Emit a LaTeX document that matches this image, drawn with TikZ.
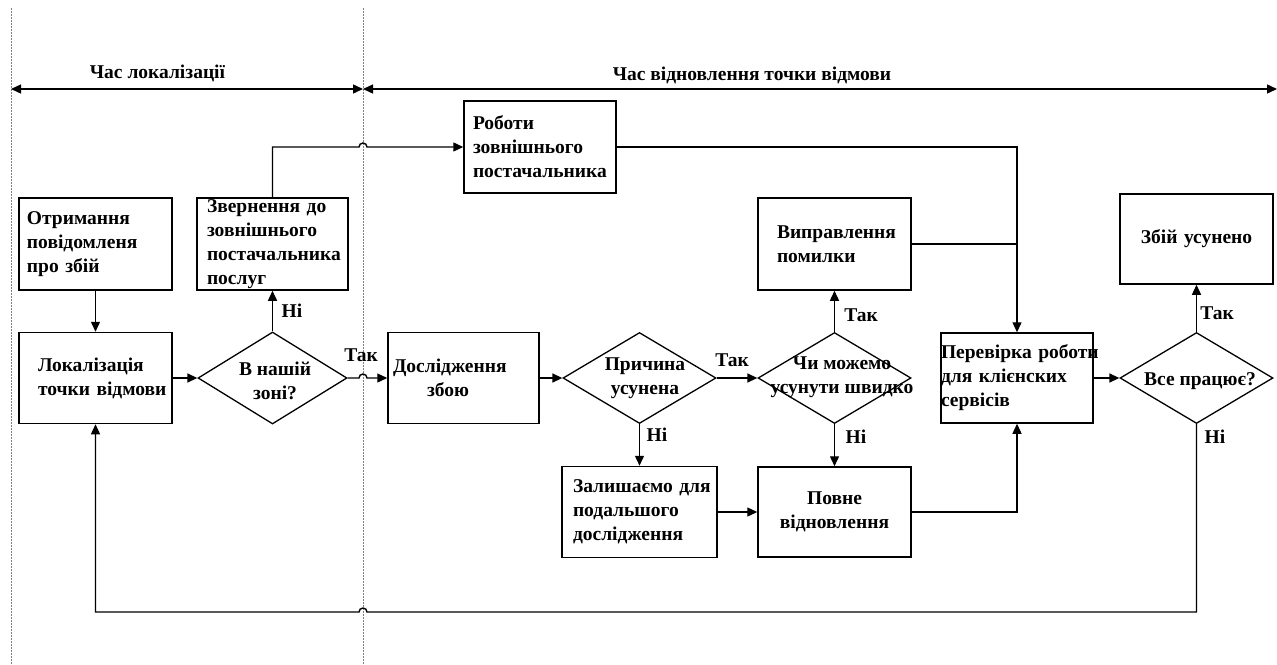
\documentclass[tikz,border=0pt]{standalone}
\usepackage{fontspec}
\setmainfont{Liberation Serif}
\usetikzlibrary{shapes.geometric,arrows.meta,calc}
\newcommand{\fnt}{\fontsize{19.5}{24}\selectfont\bfseries}
\tikzset{
  box/.style={draw, line width=1.5pt, rectangle, minimum height=91pt, inner ysep=0pt, font=\fnt, align=left},
  dec/.style={draw, line width=1.3pt, diamond, minimum width=153pt, minimum height=91pt, inner sep=0pt},
  dtext/.style={font=\fnt, align=center, inner sep=0pt},
  flow/.style={line width=1.4pt, -{Triangle[length=10pt,width=9pt]}},
  link/.style={line width=1.4pt},
  lbl/.style={font=\fnt, inner sep=0pt},
  guide/.style={gray, line width=0.8pt, dash pattern=on 1.5pt off 1.5pt},
  span/.style={line width=1.4pt, {Triangle[length=10pt,width=9pt]}-{Triangle[length=10pt,width=9pt]}}
}
\begin{document}
\begin{tikzpicture}[x=1pt, y=-1pt]
\useasboundingbox (0,0) rectangle (1277,664);

% phase boundaries
\coordinate (ga0) at (11,8);   \coordinate (ga1) at (11,664);
\coordinate (gb0) at (363,8);  \coordinate (gb1) at (363,664);
\draw[guide] (ga0) -- (ga1);
\draw[guide] (gb0) -- (gb1);

% time spans
\coordinate (sl) at (11,89); \coordinate (sm) at (363,89); \coordinate (sr) at (1277,89);
\draw[span] (sl) -- (sm);
\draw[span] (sm) -- (sr);
\node[lbl] (tl) at (157.5,73) {Час локалізації};
\node[lbl] (tr) at (752,75) {Час відновлення точки відмови};

% process steps
\node[box, text width=137pt, inner xsep=8pt, minimum height=92pt] (ot) at (95.5,244) {Отримання\\\mbox{повідомленя}\\\mbox{про збій}};
\node[box, text width=131pt, inner xsep=10pt, minimum height=92pt] (zv) at (272.5,244) {\mbox{Звернення до}\\зовнішнього\\\mbox{постачальника}\\послуг};
\node[box, text width=115pt, inner xsep=19pt] (lok) at (95.5,378) {Локалізація\\\mbox{точки відмови}};
\node[box, text width=134pt, inner xsep=9pt, minimum height=92pt] (rob) at (540,147) {Роботи\\зовнішнього\\\mbox{постачальника}};
\node[box, text width=141pt, inner xsep=5pt] (dos) at (463.5,378) {Дослідження\\\hspace*{34pt}збою};
\node[box, text width=133pt, inner xsep=11pt] (zal) at (639.5,512) {\mbox{Залишаємо для}\\подальшого\\дослідження};
\node[box, text width=115pt, inner xsep=19pt, minimum height=92pt] (vyp) at (834.5,244) {Виправлення\\помилки};
\node[box, text width=143pt, inner xsep=5pt, align=center, minimum height=90pt] (pov) at (834.5,512) {Повне\\відновлення};
\node[box, text width=152pt, inner xsep=0pt, minimum height=90pt] (per) at (1017,378) {\mbox{Перевірка роботи}\\\mbox{для клієнских}\\сервісів};
\node[box, text width=143pt, inner xsep=5pt, align=center, minimum height=90pt] (zb) at (1196.5,239) {\mbox{Збій усунено}};

% decisions
\node[dec, minimum width=149pt, minimum height=92pt] (d1) at (272.5,378) {};
\node[dtext] (q1) at (275,381) {В нашій\\зоні?};
\node[dec] (d2) at (639.5,378) {};
\node[dtext] (q2) at (645,378) {Причина\\усунена};
\node[dec] (d3) at (834.5,378) {};
\node[dtext] (q3) at (842,377.5) {Чи можемо\\усунути швидко};
\node[dec] (d4) at (1196.5,378) {};
\node[dtext] (q4) at (1200,381) {Все працює?};

% branch labels
\node[lbl] (a1) at (292,311) {Ні};
\node[lbl] (a2) at (361,355) {Так};
\node[lbl] (a3) at (657,435) {Ні};
\node[lbl] (a4) at (732,360) {Так};
\node[lbl] (a5) at (861,315) {Так};
\node[lbl] (a6) at (856,437) {Ні};
\node[lbl] (a7) at (1217,313) {Так};
\node[lbl] (a8) at (1215,437) {Ні};

% line hops over the boundary
\coordinate (hopT) at (359,147);
\coordinate (hopM) at (359,378);
\coordinate (hopB) at (367,612);

% connectors
\draw[flow] (ot.south) -- (lok.north);
\draw[flow] (lok.east) -- (d1.west);
\draw[flow] (d1.north) -- (zv.south);
\draw[flow] (zv.north) |- (hopT) arc[start angle=180, end angle=0, radius=4pt] -- (rob.west);
\draw[flow] (d1.east) -- (hopM) arc[start angle=180, end angle=0, radius=4pt] -- (dos.west);
\draw[flow] (dos.east) -- (d2.west);
\draw[flow] (d2.east) -- (d3.west);
\draw[flow] (d2.south) -- (zal.north);
\draw[flow] (d3.north) -- (vyp.south);
\draw[flow] (d3.south) -- (pov.north);
\draw[flow] (zal.east) -- (pov.west);
\draw[flow] (rob.east) -| (per.north);
\draw[link] (vyp.east) -- (vyp.east -| per.north);
\draw[flow] (pov.east) -| (per.south);
\draw[flow] (per.east) -- (d4.west);
\draw[flow] (d4.north) -- (zb.south);
\draw[flow] (d4.south) |- (hopB) arc[start angle=0, end angle=180, radius=4pt] -| (lok.south);
\end{tikzpicture}
\end{document}
